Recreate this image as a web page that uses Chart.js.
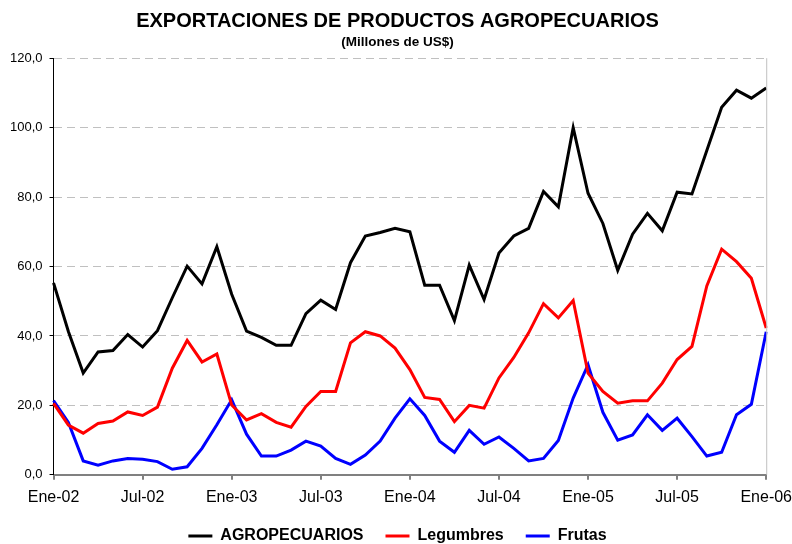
<!DOCTYPE html>
<html>
<head>
<meta charset="utf-8">
<script src="https://cdn.jsdelivr.net/npm/chart.js@4.4.1/dist/chart.umd.min.js"></script>
<style>
  html, body { margin: 0; padding: 0; background: #fff; }
  #wrap { width: 792px; height: 544px; }
</style>
</head>
<body>
<div id="wrap"><canvas id="chart" width="792" height="544"></canvas></div>
<script>
// Meses (Ene-02 .. Ene-06)
const months = ['Ene', 'Feb', 'Mar', 'Abr', 'May', 'Jun', 'Jul', 'Ago', 'Sep', 'Oct', 'Nov', 'Dic'];
const years = ['02', '03', '04', '05', '06'];
const labels = [];
years.forEach((y, yi) => {
  months.forEach((m, mi) => {
    if (yi < years.length - 1 || mi === 0) labels.push(m + '-' + y);
  });
});

const agropecuarios = [
  55.3, 41.3, 29.3, 35.4, 35.8, 40.4, 36.8, 41.5, 51.0, 60.1, 55.0, 65.7,
  52.0, 41.4, 39.6, 37.3, 37.3, 46.4, 50.3, 47.6, 61.1, 68.8, 69.8, 71.0,
  70.0, 54.6, 54.6, 44.4, 60.4, 50.5, 63.9, 68.8, 71.0, 81.6, 77.2, 100.0,
  81.1, 72.4, 58.9, 69.3, 75.3, 70.3, 81.4, 80.9, 93.4, 105.9, 110.8, 108.5,
  111.4
];
const legumbres = [
  20.6, 14.3, 12.0, 14.8, 15.5, 18.1, 17.1, 19.5, 30.7, 38.7, 32.5, 34.8,
  20.1, 15.8, 17.6, 15.1, 13.7, 19.7, 24.0, 24.0, 38.0, 41.2, 40.0, 36.5,
  30.3, 22.3, 21.7, 15.3, 20.0, 19.2, 27.9, 33.8, 40.9, 49.3, 45.2, 50.2,
  29.3, 24.0, 20.6, 21.3, 21.3, 26.4, 33.2, 37.0, 54.4, 65.0, 61.4, 56.6,
  42.3
];
const frutas = [
  21.4, 15.1, 4.0, 2.8, 4.0, 4.7, 4.5, 3.8, 1.6, 2.3, 7.6, 14.4,
  21.6, 11.7, 5.4, 5.4, 7.1, 9.7, 8.3, 4.7, 3.0, 5.7, 9.7, 16.3,
  21.9, 17.1, 9.7, 6.5, 12.8, 8.8, 10.9, 7.6, 4.0, 4.7, 9.9, 22.1,
  31.7, 18.0, 10.0, 11.5, 17.3, 12.8, 16.3, 11.0, 5.4, 6.5, 17.3, 20.3,
  41.2
];

const seriesNames = ['AGROPECUARIOS', 'Legumbres', 'Frutas'];
const seriesColors = ['#000000', '#ff0000', '#0000ff'];

const FONT = 'Liberation Sans, Arial, sans-serif';

// right border of the plot area
const plotBorder = {
  id: 'plotBorder',
  afterDraw(chart) {
    const { ctx, chartArea } = chart;
    ctx.save();
    ctx.strokeStyle = '#c0c0c0';
    ctx.lineWidth = 1;
    ctx.beginPath();
    ctx.moveTo(chartArea.right + 0.5, chartArea.top);
    ctx.lineTo(chartArea.right + 0.5, chartArea.bottom);
    ctx.stroke();
    ctx.restore();
  }
};

const ctx = document.getElementById('chart').getContext('2d');
new Chart(ctx, {
  type: 'line',
  data: {
    labels,
    datasets: [agropecuarios, legumbres, frutas].map((d, i) => ({
      label: seriesNames[i],
      data: d,
      borderColor: seriesColors[i],
      backgroundColor: seriesColors[i],
      borderWidth: 3,
      pointRadius: 0,
      tension: 0,
      fill: false,
    })),
  },
  options: {
    responsive: false,
    animation: false,
    layout: { padding: { left: 3, right: 0, top: 4, bottom: -10 } },
    plugins: {
      title: {
        display: true,
        text: 'EXPORTACIONES DE PRODUCTOS AGROPECUARIOS',
        color: '#000',
        font: { family: FONT, size: 20, weight: 'bold' },
        padding: { top: 5, bottom: 1 },
      },
      subtitle: {
        display: true,
        text: '(Millones de US$)',
        color: '#000',
        font: { family: FONT, size: 13.5, weight: 'bold' },
        padding: { top: 0, bottom: 8 },
      },
      legend: {
        position: 'bottom',
        labels: {
          usePointStyle: true,
          pointStyle: 'line',
          pointStyleWidth: 24,
          boxHeight: 3,
          color: '#000',
          font: { family: FONT, size: 16, weight: 'bold' },
          padding: 22,
        },
      },
      tooltip: { enabled: false },
    },
    scales: {
      x: {
        offset: false,
        afterFit: scale => {
          scale.height -= 9;
          scale.paddingRight = Math.max(0, scale.paddingRight - 8);
        },
        grid: {
          display: true,
          drawOnChartArea: false,
          drawTicks: true,
          tickLength: 5,
          color: '#808080',
          lineWidth: 2,
        },
        border: { display: true, color: '#808080', width: 2 },
        ticks: {
          autoSkip: false,
          maxRotation: 0,
          color: '#000',
          font: { family: FONT, size: 16 },
          padding: 8,
          callback: function (val, idx) {
            return idx % 6 === 0 ? labels[idx] : null;
          },
        },
      },
      y: {
        min: 0,
        max: 120,
        ticks: {
          stepSize: 20,
          color: '#000',
          font: { family: FONT, size: 13 },
          padding: 7,
          callback: v => v.toFixed(1).replace('.', ','),
        },
        grid: {
          color: '#c0c0c0',
          lineWidth: 1,
          tickLength: 4,
          tickColor: '#000',
        },
        border: { display: true, color: '#000', width: 1, dash: [8, 5] },
      },
    },
  },
  plugins: [plotBorder],
});
</script>
</body>
</html>
